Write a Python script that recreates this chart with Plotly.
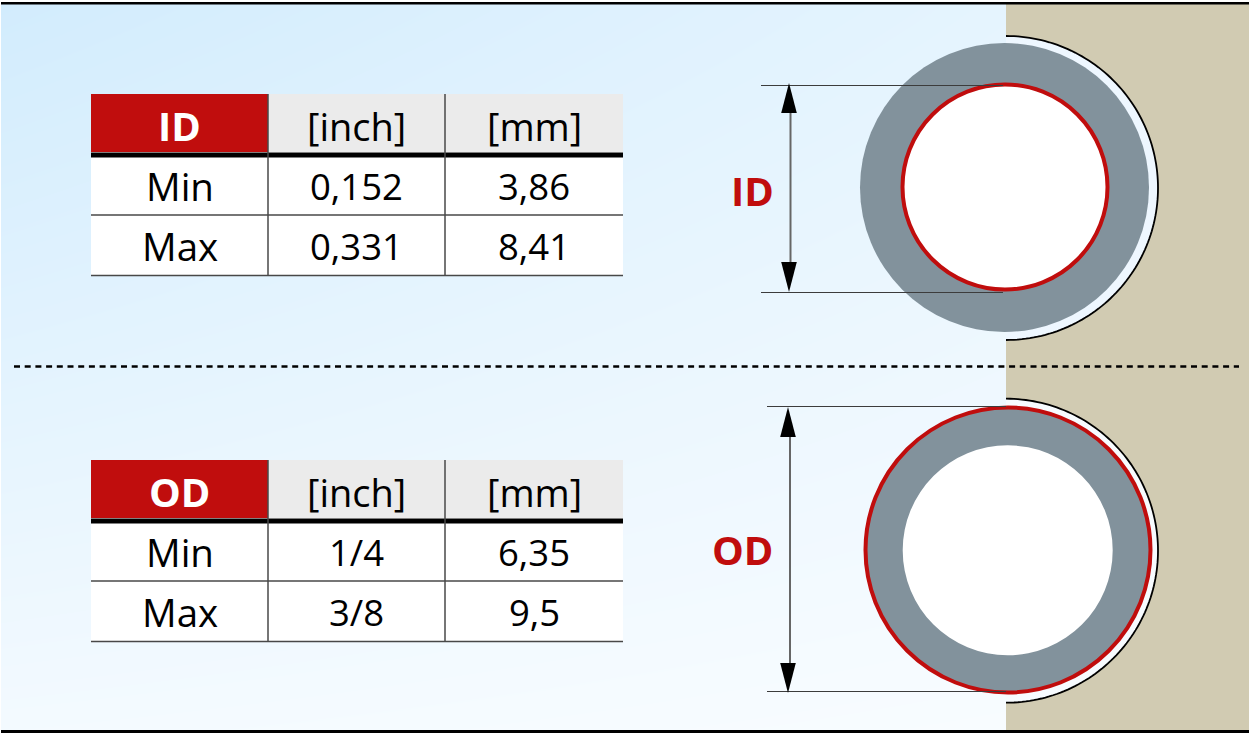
import numpy as np
import plotly.graph_objects as go

# table contents
row_labels = ['Min', 'Max']
unit_labels = ['[inch]', '[mm]']
id_inch = ['0,152', '0,331']
id_mm = ['3,86', '8,41']
od_inch = ['1/4', '3/8']
od_mm = ['6,35', '9,5']

red = '#c00d0d'
grey = '#82929c'
tan = '#d1cbb2'
head_bg = '#ebebeb'
selected_font = 'Open Sans'

col_x = [91, 268, 445, 623]


def rect(x0, y0, x1, y1, color):
    return dict(type='rect', x0=x0, y0=y0, x1=x1, y1=y1, fillcolor=color, line_width=0)


def hline(x0, x1, y, color='#3c3c3c', width=1):
    return dict(type='line', x0=x0, x1=x1, y0=y, y1=y, line_color=color, line_width=width)


def vline(x, y0, y1, color='#484848', width=1.5):
    return dict(type='line', x0=x, x1=x, y0=y0, y1=y1, line_color=color, line_width=width)


def circle(cx, cy, r, fill, line_color=None, line_width=0):
    return dict(type='circle', x0=cx - r, x1=cx + r, y0=cy - r, y1=cy + r, fillcolor=fill,
                line_color=line_color, line_width=line_width)


def half_disc(cy, r, fill, line_color, line_width):
    # right half only, straight side sits on the edge of the tan block
    t = np.linspace(-np.pi / 2, np.pi / 2, 121)
    pts = [f'{1006 + r * np.cos(a):.2f} {cy + r * np.sin(a):.2f}' for a in t]
    return dict(type='path', path='M ' + ' L '.join(pts), fillcolor=fill,
                line_color=line_color, line_width=line_width)


def arrow(x, tip_y, base_y):
    return dict(type='path', path=f'M {x} {tip_y} L {x - 7.8} {base_y} L {x + 7.8} {base_y} Z',
                fillcolor='black', line_width=0)


def table_shapes(top):
    s = [rect(col_x[0], top, col_x[1], top + 58, red),
         rect(col_x[1], top, col_x[3], top + 58, head_bg),
         rect(col_x[0], top + 58, col_x[3], top + 181, 'white'),
         hline(col_x[0], col_x[3], top + 61, 'black', 5),
         hline(col_x[0], col_x[3], top + 121, '#484848', 1.5),
         hline(col_x[0], col_x[3], top + 181.5, '#484848', 1.5),
         vline(col_x[1], top, top + 181.5),
         vline(col_x[2], top, top + 181.5)]
    return s


def table_text(top, title, inch, mm):
    out = []

    def add(i, y, text, size, color='black', bold=False):
        out.append(dict(x=(col_x[i] + col_x[i + 1]) / 2, y=y, text=f'<b>{text}</b>' if bold else text,
                        showarrow=False, xanchor='center', yanchor='middle',
                        font=dict(family=selected_font, size=size, color=color)))

    add(0, top + 31, title, 40, 'white', True)
    add(1, top + 31.5, unit_labels[0], 38)
    add(2, top + 31.5, unit_labels[1], 38)
    for n in range(len(row_labels)):
        y = top + 91.5 + n * 60
        add(0, y, row_labels[n], 38.5)
        add(1, y, inch[n], 36.5)
        add(2, y, mm[n], 36.5)
    return out


fig = go.Figure()
# diagonal pale blue background
fig.add_trace(go.Heatmap(x=[1, 1006], y=[4, 730], z=[[0, 0.5], [0.88, 1]], zsmooth='best',
                         zmin=0, zmax=1, colorscale=[[0, '#d2ecfd'], [1, '#f8fcff']],
                         showscale=False, hoverinfo='skip'))

shapes = [
    rect(0, 0, 1, 735, 'white'),
    rect(1006, 0, 1251, 735, tan),
    rect(1249, 0, 1251, 735, 'white'),
    rect(0, 0, 1251, 2, 'white'),
    rect(0, 733, 1251, 735, 'white'),
    rect(1, 2, 1249, 4.4, 'black'),
    rect(1, 730, 1249, 733, 'black'),
    hline(14, 1239, 366.5, 'black', 2.5) | dict(line_dash='6px,4.7px'),
]
# ID drawing
shapes += [
    half_disc(188, 152, '#eef7ff', 'black', 1.8),
    circle(1004.5, 187.5, 144.5, grey),
    circle(1005, 187, 102.5, 'white', red, 4),
    hline(761, 1003, 85.5),
    hline(761, 1003, 292.5),
    vline(790.5, 110, 265, '#666666', 2),
    arrow(789, 83, 113),
    arrow(789, 292, 262),
]
# OD drawing
shapes += [
    half_disc(550.7, 152, '#f7fbff', 'black', 1.8),
    circle(1008, 550, 142.5, grey, red, 4),
    circle(1007.7, 550.3, 105, 'white'),
    hline(767, 1006, 406.5),
    hline(767, 1006, 691.5),
    vline(790, 430, 670, '#666666', 2),
    arrow(788, 407, 437),
    arrow(788, 693, 663),
]
shapes += table_shapes(94) + table_shapes(460)

annotations = table_text(94, 'ID', id_inch, id_mm) + table_text(460, 'OD', od_inch, od_mm)
annotations += [
    dict(x=752, y=190, text='<b>ID</b>', showarrow=False, font=dict(family=selected_font, size=40, color=red)),
    dict(x=742, y=549, text='<b>OD</b>', showarrow=False, font=dict(family=selected_font, size=40, color=red)),
]

fig.update_layout(width=1251, height=735,
                  margin=dict(l=0, r=0, t=0, b=0, pad=0),
                  paper_bgcolor='white', plot_bgcolor='white',
                  font_family=selected_font,
                  xaxis=dict(range=[0, 1251], visible=False, fixedrange=True),
                  yaxis=dict(range=[735, 0], visible=False, fixedrange=True),
                  shapes=shapes, annotations=annotations, showlegend=False)

fig.write_html('out.html', config=dict(displayModeBar=False),
               post_script="document.body.style.margin='0';document.body.style.overflow='hidden';")
